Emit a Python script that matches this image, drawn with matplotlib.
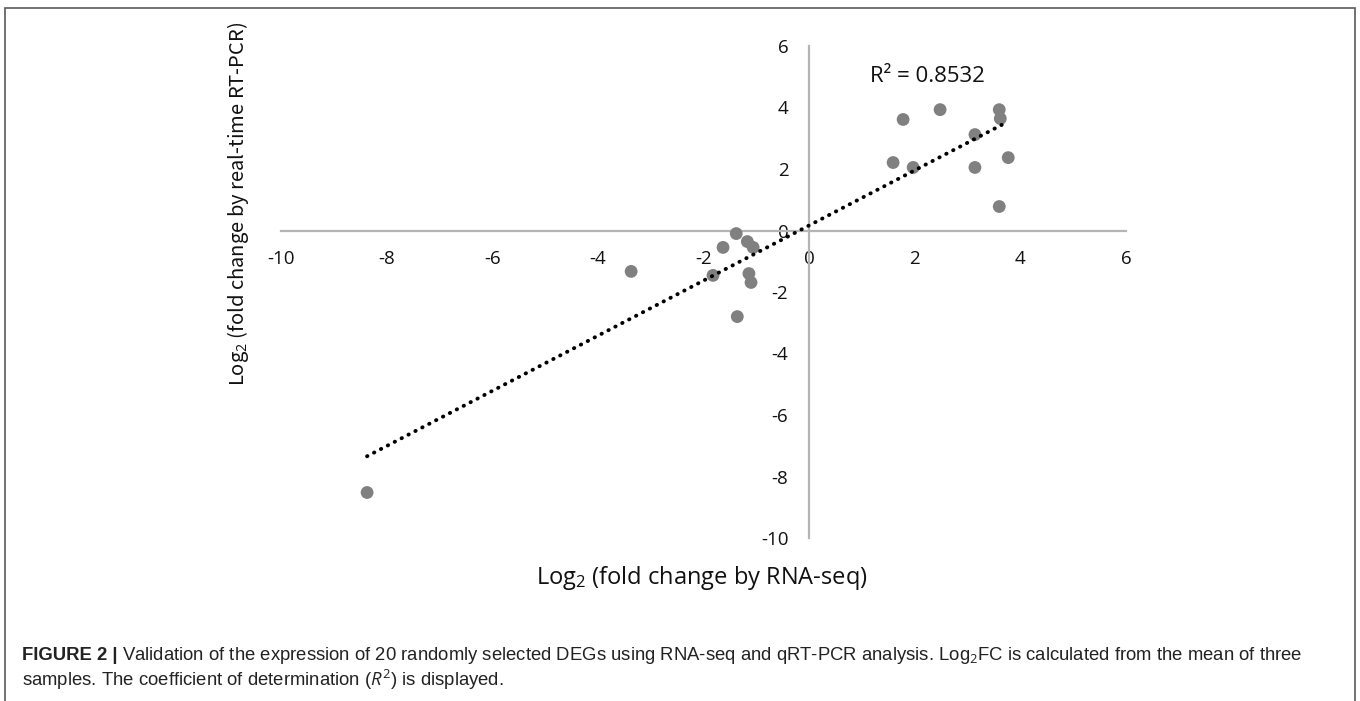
import numpy as np
import matplotlib
matplotlib.use("Agg")
import matplotlib.pyplot as plt
from matplotlib.patches import Rectangle

# Log2 fold change values
rna_seq = [-8.37, -3.37, -1.38, -1.63, -1.17, -1.06, -1.82, -1.14, -1.10, -1.36,
           1.78, 2.48, 3.60, 3.62, 3.14, 1.59, 1.97, 3.14, 3.77, 3.60]
rt_pcr = [-8.52, -1.33, -0.10, -0.55, -0.36, -0.55, -1.46, -1.40, -1.69, -2.80,
          3.61, 3.93, 3.93, 3.64, 3.12, 2.21, 2.05, 2.05, 2.37, 0.78]
ticks = [-10, -8, -6, -4, -2, 0, 2, 4, 6]
r2_text = "R² = 0.8532"

plt.rcParams['font.family'] = ['Open Sans', 'DejaVu Sans']
plt.rcParams['mathtext.fontset'] = 'custom'
plt.rcParams['mathtext.rm'] = 'Open Sans'
plt.rcParams['mathtext.it'] = 'Open Sans:italic'

fig = plt.figure(figsize=(13.6, 7.01), dpi=100)
W, H = 1360, 701

# outer frame of the figure panel
fig.patches.append(Rectangle((5 / W, -0.01), 1350 / W, (701 - 8) / H + 0.01,
                             transform=fig.transFigure, fill=False,
                             edgecolor='#5a5a5a', linewidth=1.2))

ax = fig.add_axes([281 / W, 1 - 538 / H, 845 / W, 492 / H])
ax.set_xlim(-10, 6)
ax.set_ylim(-10, 6)

for side in ['top', 'right']:
    ax.spines[side].set_visible(False)
for side in ['left', 'bottom']:
    ax.spines[side].set_position(('data', 0))
    ax.spines[side].set_color('#b4b4b4')
    ax.spines[side].set_linewidth(1.6)

ax.set_xticks(ticks)
ax.set_yticks(ticks)
ax.set_xticklabels([str(t) for t in ticks])
ax.set_yticklabels([str(t) for t in ticks])
ax.tick_params(axis='x', length=0, pad=14, labelsize=13.5, labelcolor='#111111')
ax.tick_params(axis='y', length=0, pad=15, labelsize=13.5, labelcolor='#111111')

# data points
ax.scatter(rna_seq, rt_pcr, s=85, color='#808080', edgecolors='none', zorder=3)

# linear trendline over the data range
x = np.array(rna_seq)
y = np.array(rt_pcr)
slope, intercept = np.polyfit(x, y, 1)
xl = np.array([x.min(), x.max()])
ax.plot(xl, slope * xl + intercept, color='black', linewidth=2.8,
        linestyle=(0, (0.1, 1.9)), dash_capstyle='round', zorder=4)

ax.text(1.15, 5.0, r2_text, fontsize=16, color='#111111', va='center', ha='left')

# axis titles
fig.text(702 / W, 1 - 578 / H, r'Log$_2$ (fold change by RNA-seq)',
         fontsize=17, ha='center', va='center', color='#111111')
fig.text(238 / W, 1 - 204 / H, r'Log$_2$ (fold change by real-time RT-PCR)',
         fontsize=14.5, ha='center', va='center', rotation=90, color='#111111',
         family=['Noto Sans CJK KR', 'DejaVu Sans'])

# caption
cap_font = ['Liberation Sans Narrow', 'Liberation Sans', 'DejaVu Sans']
cap_size = 13.3
t1 = fig.text(22 / W, 1 - 660 / H, 'FIGURE 2 |', fontsize=cap_size,
              fontweight='bold', family=cap_font, color='#222222', va='baseline')
fig.canvas.draw()
bb = t1.get_window_extent(renderer=fig.canvas.get_renderer())
fig.text((bb.x1 + 4) / W, 1 - 660 / H,
         r'Validation of the expression of 20 randomly selected DEGs using RNA-seq and qRT-PCR analysis. '
         r'Log$_2$FC is calculated from the mean of three',
         fontsize=cap_size, family=cap_font, color='#222222', va='baseline')
fig.text(22 / W, 1 - 686 / H,
         r'samples. The coefficient of determination ($R^2$) is displayed.',
         fontsize=cap_size, family=cap_font, color='#222222', va='baseline')

fig.savefig('out.png', dpi=100)
